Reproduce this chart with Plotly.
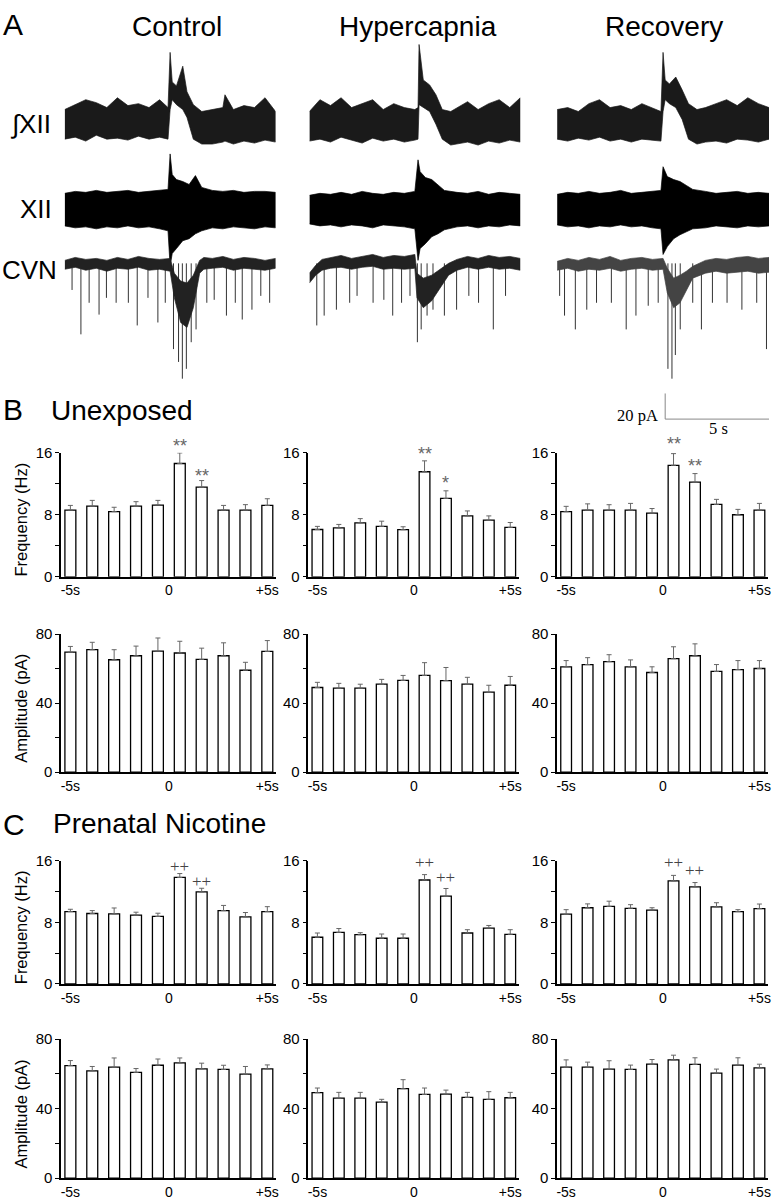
import plotly.graph_objects as go

W, H = 774, 1200

# ------------------------------------------------------------------ data
bins = list(range(10))
bin_tickvals = [0, 4.5, 9]
bin_ticktext = ["-5s", "0", "+5s"]
conditions = ["Control", "Hypercapnia", "Recovery"]

# Unexposed (B)
b_freq = [
    [8.6, 9.1, 8.4, 9.1, 9.25, 14.6, 11.55, 8.6, 8.6, 9.2],
    [6.1, 6.3, 6.96, 6.5, 6.07, 13.54, 10.1, 7.85, 7.3, 6.37],
    [8.39, 8.6, 8.6, 8.6, 8.2, 14.37, 12.2, 9.33, 8.0, 8.6],
]
b_freq_sem = [
    [0.6, 0.75, 0.56, 0.58, 0.6, 1.36, 0.85, 0.6, 0.7, 0.86],
    [0.4, 0.45, 0.54, 0.67, 0.38, 1.4, 0.98, 0.64, 0.55, 0.63],
    [0.69, 0.8, 0.69, 0.86, 0.6, 1.5, 1.1, 0.65, 0.69, 0.86],
]
b_amp = [
    [69.5, 70.9, 65.1, 67.4, 70.1, 69.0, 65.3, 67.4, 59.0, 69.9],
    [49.0, 48.6, 48.6, 50.9, 53.1, 56.0, 53.0, 50.9, 46.3, 50.3],
    [61.0, 62.3, 64.0, 61.0, 57.7, 65.7, 67.4, 58.3, 59.4, 60.0],
]
b_amp_sem = [
    [3.3, 4.3, 5.8, 5.6, 7.6, 6.8, 6.5, 7.5, 4.6, 6.3],
    [3.0, 2.8, 2.3, 2.8, 2.9, 7.4, 7.6, 4.0, 4.0, 5.1],
    [3.6, 4.0, 4.0, 4.0, 3.3, 6.9, 6.9, 4.0, 5.2, 4.6],
]
b_marks = [
    [(5, "**", 17.3), (6, "**", 13.45)],
    [(5, "**", 16.3), (6, "*", 12.5)],
    [(5, "**", 17.5), (6, "**", 14.67)],
]

# Prenatal nicotine (C)
c_freq = [
    [9.4, 9.15, 9.1, 8.94, 8.77, 13.83, 11.96, 9.53, 8.72, 9.4],
    [6.07, 6.7, 6.4, 5.94, 5.94, 13.5, 11.4, 6.62, 7.26, 6.45],
    [9.06, 9.9, 10.08, 9.83, 9.6, 13.38, 12.6, 10.0, 9.4, 9.78],
]
c_freq_sem = [
    [0.3, 0.38, 0.77, 0.38, 0.42, 0.51, 0.47, 0.67, 0.56, 0.64],
    [0.55, 0.5, 0.26, 0.55, 0.55, 0.7, 1.0, 0.43, 0.34, 0.6],
    [0.59, 0.5, 0.67, 0.47, 0.3, 0.72, 0.57, 0.55, 0.25, 0.6],
]
c_amp = [
    [64.8, 61.8, 63.9, 60.9, 65.0, 66.35, 62.9, 62.6, 59.9, 62.9],
    [49.2, 46.1, 46.1, 43.8, 51.5, 48.2, 48.4, 46.5, 45.4, 46.3],
    [63.9, 63.9, 62.8, 62.6, 65.6, 68.1, 65.5, 60.5, 65.1, 63.5],
]
c_amp_sem = [
    [2.9, 2.5, 5.3, 2.2, 3.6, 2.85, 3.3, 2.4, 4.4, 2.3],
    [2.7, 3.3, 3.3, 1.6, 5.2, 3.7, 2.3, 2.9, 4.4, 3.1],
    [4.2, 2.9, 4.8, 2.5, 2.7, 2.7, 3.8, 2.3, 4.2, 2.1],
]
c_marks = [
    [(5, "++", 15.2), (6, "++", 13.3)],
    [(5, "++", 15.8), (6, "++", 13.8)],
    [(5, "++", 15.76), (6, "++", 14.7)],
]

# Panel A traces (time in s, envelopes in arbitrary units)
intxii_t = [
    [0, 0.5, 1, 1.5, 2, 2.5, 3, 3.5, 4, 4.5, 4.9, 5.0, 5.1, 5.3, 5.6, 5.8, 6.1, 6.5, 7, 7.5, 7.6, 8, 8.5, 9, 9.5, 10],
    [0, 0.5, 1, 1.5, 2, 2.5, 3, 3.5, 4, 4.5, 5.0, 5.15, 5.2, 5.4, 5.7, 6.0, 6.3, 6.7, 7, 7.5, 8, 8.5, 9, 9.5, 10],
    [0, 0.5, 1, 1.5, 2, 2.5, 3, 3.5, 4, 4.5, 4.9, 5.0, 5.1, 5.3, 5.6, 5.9, 6.2, 6.6, 7, 7.5, 8, 8.5, 9, 9.5, 10],
]
intxii_hi = [
    [4.0, 4.5, 5.0, 4.7, 4.2, 5.2, 4.4, 4.6, 4.2, 5.0, 4.2, 9.8, 6.8, 6.4, 8.4, 5.8, 4.5, 3.8, 4.0, 4.2, 5.5, 4.0, 4.4, 4.2, 5.2, 3.8],
    [3.8, 5.0, 4.4, 5.2, 4.2, 4.6, 5.0, 4.0, 4.6, 4.2, 4.0, 4.2, 10.6, 7.0, 6.5, 5.5, 4.0, 3.8, 4.2, 4.8, 4.0, 4.6, 5.0, 4.2, 5.2],
    [4.0, 4.2, 3.8, 4.6, 5.0, 4.2, 4.4, 4.0, 4.6, 4.2, 3.8, 9.8, 7.0, 6.6, 7.3, 6.0, 4.6, 4.0, 4.2, 4.6, 5.0, 4.4, 5.2, 4.6, 4.2],
]
intxii_lo = [
    [1.0, 1.2, 0.8, 1.4, 1.0, 1.1, 0.9, 1.3, 1.0, 1.2, 1.0, 4.0, 5.0, 4.5, 4.0, 3.2, 1.0, 0.5, 0.5, 0.7, 0.8, 0.5, 0.8, 0.6, 0.9, 0.7],
    [0.8, 1.0, 0.7, 1.2, 0.9, 0.6, 1.1, 0.8, 1.0, 0.7, 0.9, 1.0, 4.5, 4.2, 3.8, 2.5, 1.0, 0.4, 0.5, 0.7, 0.4, 0.8, 0.6, 0.9, 0.7],
    [1.0, 0.8, 1.1, 0.9, 1.2, 0.8, 1.0, 0.7, 1.0, 0.9, 0.8, 3.8, 5.0, 4.6, 4.2, 3.0, 1.0, 0.5, 0.7, 0.8, 0.6, 1.0, 0.9, 0.7, 1.0],
]

xii_t = [
    [0, 0.5, 1, 1.5, 2, 2.5, 3, 3.5, 4, 4.5, 4.9, 5.0, 5.1, 5.3, 5.6, 5.9, 6.2, 6.5, 7, 7.5, 8, 8.5, 9, 9.5, 10],
    [0, 0.5, 1, 1.5, 2, 2.5, 3, 3.5, 4, 4.5, 5.0, 5.15, 5.25, 5.5, 5.8, 6.1, 6.4, 7, 7.5, 8, 8.5, 9, 9.5, 10],
    [0, 0.5, 1, 1.5, 2, 2.5, 3, 3.5, 4, 4.5, 4.9, 5.0, 5.2, 5.5, 5.8, 6.1, 6.4, 7, 7.5, 8, 8.5, 9, 9.5, 10],
]
xii_hi = [
    [1.6, 1.8, 1.7, 1.9, 1.7, 1.8, 1.9, 1.7, 1.8, 1.9, 2.0, 5.6, 3.5, 3.0, 2.8, 2.5, 3.4, 2.2, 1.9, 1.8, 1.9, 1.7, 1.8, 1.8, 1.7],
    [1.4, 1.6, 1.5, 1.7, 1.5, 1.8, 1.6, 1.5, 1.7, 1.6, 1.8, 5.0, 3.8, 3.2, 3.0, 2.4, 1.9, 1.7, 1.6, 1.8, 1.5, 1.7, 1.6, 1.5],
    [1.5, 1.7, 1.6, 1.8, 1.6, 1.7, 1.9, 1.6, 1.7, 1.8, 1.9, 4.3, 3.3, 3.0, 2.8, 2.4, 2.0, 1.8, 1.6, 1.7, 1.8, 1.6, 1.7, 1.6],
]
xii_lo = [
    [-1.7, -1.9, -1.8, -2.0, -1.8, -1.9, -1.7, -1.9, -1.8, -2.0, -2.2, -5.8, -4.5, -4.0, -3.2, -3.0, -2.5, -2.2, -1.9, -2.0, -1.8, -1.9, -2.0, -1.8, -1.9],
    [-1.5, -1.7, -1.6, -1.8, -1.6, -1.7, -1.9, -1.6, -1.7, -1.8, -2.0, -5.2, -4.0, -3.5, -2.8, -2.5, -2.1, -1.8, -1.7, -1.9, -1.7, -1.8, -1.6, -1.7],
    [-1.6, -1.8, -1.7, -1.9, -1.7, -1.8, -1.6, -1.8, -1.7, -1.9, -2.0, -4.6, -3.8, -3.0, -2.6, -2.3, -2.0, -1.9, -1.7, -1.8, -1.9, -1.7, -1.8, -1.7],
]

cvn_t = [
    [0, 0.5, 1, 1.5, 2, 2.5, 3, 3.5, 4, 4.5, 5.0, 5.2, 5.5, 5.8, 6.1, 6.4, 6.6, 7, 7.5, 8, 8.5, 9, 9.5, 10],
    [0, 0.3, 0.6, 1, 1.5, 2, 2.5, 3, 3.5, 4, 4.5, 5.0, 5.1, 5.4, 5.8, 6.2, 6.6, 7, 7.5, 8, 8.5, 9, 9.5, 10],
    [0, 0.5, 1, 1.5, 2, 2.5, 3, 3.5, 4, 4.5, 5.0, 5.2, 5.5, 5.8, 6.1, 6.4, 7, 7.5, 8, 8.5, 9, 9.5, 10],
]
cvn_hi = [
    [0.3, 0.6, 0.4, 0.5, 0.3, 0.6, 0.4, 0.7, 0.5, 0.4, 0.5, -1.0, -1.8, -2.0, -1.2, 0.3, 0.6, 0.5, 0.7, 0.4, 0.6, 0.5, 0.3, 0.5],
    [-1.0, -0.2, 0.4, 0.6, 0.8, 0.5, 0.7, 0.9, 0.6, 0.8, 0.7, 0.9, -1.0, -1.5, -1.2, -0.6, 0.0, 0.4, 0.7, 0.5, 0.8, 0.6, 0.7, 0.5],
    [0.2, 0.5, 0.3, 0.6, 0.4, 0.7, 0.3, 0.5, 0.6, 0.4, 0.5, -0.5, -1.5, -1.2, -0.8, -0.3, 0.3, 0.5, 0.4, 0.6, 0.7, 0.5, 0.6],
]
cvn_lo = [
    [-0.6, -0.4, -0.7, -0.5, -0.8, -0.5, -0.6, -0.4, -0.7, -0.6, -0.8, -3.5, -6.0, -6.5, -4.5, -1.0, -0.6, -0.5, -0.4, -0.7, -0.5, -0.6, -0.7, -0.5],
    [-2.0, -1.2, -0.7, -0.5, -0.4, -0.6, -0.4, -0.3, -0.6, -0.5, -0.6, -0.5, -3.5, -4.5, -3.8, -2.5, -1.2, -0.7, -0.4, -0.6, -0.4, -0.6, -0.5, -0.7],
    [-0.7, -0.5, -0.8, -0.6, -0.7, -0.5, -0.8, -0.6, -0.5, -0.7, -0.6, -3.0, -4.5, -4.0, -2.8, -1.5, -1.0, -0.8, -1.0, -0.9, -0.8, -1.0, -0.9],
]
cvn_spike_t = [
    [0.35, 0.77, 1.16, 1.63, 1.98, 2.44, 3.02, 3.44, 3.95, 4.42, 4.77, 5.16, 5.40, 5.58, 5.77, 6.0, 6.23, 6.74, 7.09, 7.67, 8.09, 8.42, 8.88, 9.30, 9.72],
    [0.35, 0.70, 1.28, 1.91, 2.26, 3.02, 3.53, 3.95, 4.37, 4.77, 5.12, 5.30, 5.58, 5.86, 6.40, 6.98, 7.56, 8.02, 8.72, 9.30],
    [0.12, 0.35, 0.86, 1.40, 1.86, 2.56, 3.26, 3.72, 4.30, 4.77, 5.23, 5.42, 5.58, 5.81, 6.40, 6.81, 7.33, 8.02, 8.72, 9.42, 9.88],
]
cvn_spike_depth = [
    [-2.7, -7.2, -4.0, -5.2, -3.5, -4.0, -4.0, -6.3, -3.5, -6.0, -4.0, -8.7, -10.0, -11.7, -10.7, -8.0, -6.7, -4.0, -3.7, -5.3, -4.0, -5.7, -4.7, -3.3, -4.0],
    [-6.3, -5.3, -4.7, -4.0, -3.3, -4.0, -3.7, -5.3, -4.0, -3.3, -8.0, -6.7, -5.3, -4.7, -5.3, -4.7, -3.3, -4.0, -6.7, -3.3],
    [-3.3, -5.3, -6.7, -4.7, -4.0, -4.0, -6.7, -5.3, -4.3, -4.0, -10.7, -11.7, -9.3, -6.7, -4.0, -6.7, -4.0, -4.0, -4.7, -4.0, -8.7],
]
scalebar_t = [5.1, 10.05]
scalebar_cvn = [-15.8, -13.2]

# ------------------------------------------------------------------ layout helpers
FONT = "Liberation Sans, Arial, Helvetica, sans-serif"
SERIF = "Liberation Serif, Times New Roman, serif"

fig = go.Figure()
layout = dict(
    width=W, height=H, margin=dict(l=0, r=0, t=0, b=0),
    paper_bgcolor="white", plot_bgcolor="rgba(0,0,0,0)",
    showlegend=False, font=dict(family=FONT, color="black"),
    annotations=[], shapes=[],
)
_n = [0]


def new_axes(x0, x1, y0, y1, xopts, yopts):
    _n[0] += 1
    i = _n[0]
    sx = "" if i == 1 else str(i)
    layout["xaxis" + sx] = dict(domain=[x0 / W, x1 / W], anchor="y" + sx, **xopts)
    layout["yaxis" + sx] = dict(domain=[1 - y1 / H, 1 - y0 / H], anchor="x" + sx, **yopts)
    return "x" + sx, "y" + sx


def px_note(text, x, y, size, family=FONT, xanchor="center", color="black", angle=0):
    layout["annotations"].append(dict(
        text=text, x=x / W, y=1 - y / H, xref="paper", yref="paper",
        xanchor=xanchor, yanchor="middle", showarrow=False, textangle=angle,
        font=dict(size=size, family=family, color=color)))


col_x = [(60.5, 276.5), (309, 520.5), (559, 771)]
trace_x = [(64, 276), (310, 522), (559, 772)]

# ------------------------------------------------------------------ panel A
hidden = dict(visible=False, showgrid=False, zeroline=False, fixedrange=True)
for c in range(3):
    tx0, tx1 = trace_x[c]
    # integrated XII
    xr, yr = new_axes(tx0, tx1, 22, 142, dict(hidden, range=[0, 10]), dict(hidden, range=[0, 12]))
    t = intxii_t[c]
    fig.add_trace(go.Scatter(x=t + t[::-1], y=intxii_hi[c] + intxii_lo[c][::-1], fill="toself",
                             fillcolor="#1a1a1a", line=dict(color="#1a1a1a", width=0.7),
                             mode="lines", xaxis=xr, yaxis=yr, hoverinfo="skip"))
    # raw XII
    xr, yr = new_axes(tx0, tx1, 136, 271, dict(hidden, range=[0, 10]), dict(hidden, range=[-6.8, 6.7]))
    t = xii_t[c]
    fig.add_trace(go.Scatter(x=t + t[::-1], y=xii_hi[c] + xii_lo[c][::-1], fill="toself",
                             fillcolor="black", line=dict(color="black", width=0.7),
                             mode="lines", xaxis=xr, yaxis=yr, hoverinfo="skip"))
    # CVN
    xr, yr = new_axes(tx0, tx1, 238, 420, dict(hidden, range=[0, 10]), dict(hidden, range=[-16.2, 2.0]))
    t = cvn_t[c]
    col = "#222" if c < 2 else "#444"
    sx, sy = [], []
    for st, sd in zip(cvn_spike_t[c], cvn_spike_depth[c]):
        sx += [st, st, None]
        sy += [0, sd, None]
    fig.add_trace(go.Scatter(x=sx, y=sy, mode="lines", line=dict(color="#333", width=1),
                             xaxis=xr, yaxis=yr, hoverinfo="skip"))
    fig.add_trace(go.Scatter(x=t + t[::-1], y=cvn_hi[c] + cvn_lo[c][::-1], fill="toself",
                             fillcolor=col, line=dict(color=col, width=0.7),
                             mode="lines", xaxis=xr, yaxis=yr, hoverinfo="skip"))
    if c == 2:
        # scale bar: 5 s horizontal, 20 pA vertical
        layout["shapes"].append(dict(type="line", xref=xr, yref=yr, x0=scalebar_t[0], x1=scalebar_t[1],
                                     y0=scalebar_cvn[0], y1=scalebar_cvn[0], line=dict(color="#888", width=1)))
        layout["shapes"].append(dict(type="line", xref=xr, yref=yr, x0=scalebar_t[0], x1=scalebar_t[0],
                                     y0=scalebar_cvn[0], y1=scalebar_cvn[1], line=dict(color="#888", width=1)))

px_note("A", 12, 16, 30)
for c, name in enumerate(conditions):
    px_note(name, [177, 419, 666][c], 18, 28)
px_note("∫XII", 30, 117, 26)
px_note("XII", 35, 203, 26)
px_note("CVN", 29, 265, 26)
px_note("20 pA", 662, 412, 16.5, family=SERIF, xanchor="right")
px_note("5 s", 721, 426, 16.5, family=SERIF)

# ------------------------------------------------------------------ panels B and C
def bar_axes(c, y0, y1, ymax, ytickvals, yticktext):
    xo = dict(range=[-0.42, 9.4], showline=True, linecolor="black", linewidth=1.5,
              tickvals=bin_tickvals, ticktext=bin_ticktext, ticks="", showgrid=False,
              zeroline=False, tickfont=dict(size=14, family=FONT, color="black"), fixedrange=True)
    yo = dict(range=[0, ymax], showline=True, linecolor="black", linewidth=1.5,
              tickvals=ytickvals, ticktext=yticktext, ticks="outside", ticklen=4, tickwidth=1.3,
              tickcolor="black", showgrid=False, zeroline=False,
              tickfont=dict(size=15, family=FONT, color="black"), fixedrange=True)
    return new_axes(col_x[c][0], col_x[c][1], y0, y1, xo, yo)


def add_bars(xr, yr, vals, sems):
    fig.add_trace(go.Bar(x=bins, y=vals, width=0.5, xaxis=xr, yaxis=yr,
                         marker=dict(color="white", line=dict(color="black", width=1.3)),
                         error_y=dict(type="data", symmetric=False, array=sems,
                                      arrayminus=[0] * len(sems), color="#666",
                                      thickness=1, width=2.5),
                         hoverinfo="skip"))


rows = [
    (450, 576, 16, [0, 4, 8, 12, 16], ["0", "", "8", "", "16"], b_freq, b_freq_sem, b_marks),
    (634, 774, 80, [0, 20, 40, 60, 80], ["0", "", "40", "", "80"], b_amp, b_amp_sem, None),
    (864, 989, 16, [0, 4, 8, 12, 16], ["0", "", "8", "", "16"], c_freq, c_freq_sem, c_marks),
    (1045, 1186, 80, [0, 20, 40, 60, 80], ["0", "", "40", "", "80"], c_amp, c_amp_sem, None),
]
for (y0, y1, ymax, tv, tt, vals, sems, marks) in rows:
    for c in range(3):
        xr, yr = bar_axes(c, y0, y1, ymax, tv, tt)
        add_bars(xr, yr, vals[c], sems[c])
        if marks:
            for (bi, txt, yv) in marks[c]:
                star = txt.startswith("*")
                # glyph sits high in its line box: shift the box a little down for asterisks
                ypos = (yv - (0.45 if star else 0.0)) / ymax
                layout["annotations"].append(dict(
                    text=txt, x=bi, y=ypos, xref=xr, yref=yr + " domain", showarrow=False,
                    xanchor="center", yanchor="middle",
                    font=dict(size=18 if star else 17,
                              family=FONT if star else SERIF,
                              color="#666" if star else "#444")))

for (y0, y1, title) in [(450, 576, "Frequency (Hz)"), (634, 774, "Amplitude (pA)"),
                        (864, 989, "Frequency (Hz)"), (1045, 1186, "Amplitude (pA)")]:
    px_note(title, 20, (y0 + y1) / 2 + 5, 16.5, angle=-90)

px_note("B", 12, 406, 30)
px_note("Unexposed", 122, 407, 28)
px_note("C", 13, 827, 30)
px_note("Prenatal Nicotine", 159, 826, 28)

fig.update_layout(**layout)
fig.write_html("out.html", config={"displayModeBar": False},
               post_script="document.body.style.margin='0px';document.body.style.overflow='hidden';")
